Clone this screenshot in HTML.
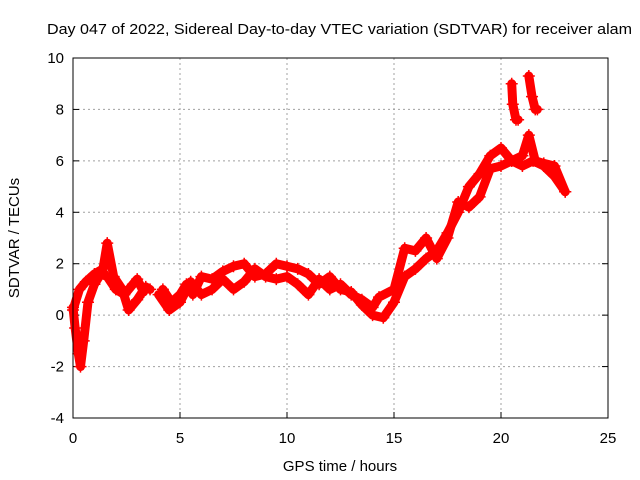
<!DOCTYPE html>
<html><head><meta charset="utf-8"><style>
body{margin:0;background:#fff;}
svg{display:block;font-family:"Liberation Sans",sans-serif;}
</style></head><body>
<svg id="chart" width="640" height="480" viewBox="0 0 640 480">
<text x="47" y="34" font-size="15" textLength="585" lengthAdjust="spacingAndGlyphs" fill="#000">Day 047 of 2022, Sidereal Day-to-day VTEC variation (SDTVAR) for receiver alam</text>
<text transform="translate(19,238) rotate(-90)" text-anchor="middle" font-size="15">SDTVAR / TECUs</text>
<text x="340" y="471" text-anchor="middle" font-size="15">GPS time / hours</text>
<g id="grid"></g><g id="data"></g>
<rect x="73" y="58" width="535" height="360" fill="none" stroke="#000" stroke-width="1"/>
</svg>
<script>
const xTicks=[0,5,10,15,20,25];
const yTicks=[-4,-2,0,2,4,6,8,10];
const trackA=[[0,0.3],[0.1,-0.5],[0.25,-1.5],[0.35,-2.0],[0.5,-1.0],[0.7,0.5],[1.0,1.2],[1.3,1.6],[1.6,1.5],[2.0,1.0],[2.4,0.8],[2.8,1.2],[3.0,1.4],[3.3,0.9]];
const trackB=[[0,0.2],[0.3,1.0],[0.6,1.3],[1.0,1.6],[1.4,1.8],[1.6,2.8],[1.9,1.5],[2.3,1.0],[2.6,0.2],[3.0,0.6],[3.4,1.1],[3.6,1.0]];
const trackC=[[4.2,1.0],[4.6,0.5],[5.0,0.8],[5.3,1.2],[5.6,0.8],[6.0,1.5],[6.5,1.4],[7.0,1.7],[7.5,1.9],[8.0,2.0],[8.5,1.5],[9.0,1.6],[9.5,2.0],[10,1.9],[10.5,1.8],[11,1.6],[11.5,1.2],[12,1.5],[12.5,1.0],[13,0.9],[13.5,0.4],[14,0.0],[14.5,-0.1],[15,0.5],[15.5,1.5],[16,1.8],[16.5,2.2],[17,2.5],[17.5,3.2],[18,4.0],[18.5,5.0],[19,5.5],[19.5,6.2],[20,6.5],[20.5,6.0],[21,5.8],[21.5,6.0],[22,5.8],[22.5,5.4],[23,4.8]];
const trackD=[[4.0,0.8],[4.5,0.2],[5.0,0.5],[5.5,1.3],[6.0,0.8],[6.5,1.0],[7.0,1.4],[7.5,1.0],[8.0,1.3],[8.5,1.8],[9,1.5],[9.5,1.4],[10,1.5],[10.5,1.2],[11,0.8],[11.5,1.4],[12,1.0],[12.5,1.2],[13,0.8],[13.5,0.6],[14,0.3],[14.3,0.7],[15,1.0],[15.5,2.6],[16,2.5],[16.5,3.0],[17,2.2],[17.5,3.0],[18,4.4],[18.5,4.2],[19,4.6],[19.5,5.7],[20,5.8],[20.5,6.0],[21,6.2],[21.3,7.0],[21.6,6.0],[22,5.9],[22.5,5.8],[23,4.8]];
const spike1=[[20.5,9.0],[20.55,8.2],[20.7,7.6],[20.8,7.6]];
const spike2=[[21.3,9.3],[21.45,8.5],[21.6,8.0],[21.7,8.0]];
const tracks=[trackA,trackB,trackC,trackD,spike1,spike2];
const NS="http://www.w3.org/2000/svg";
const L=73,R=608,T=58,B=418;
const sx=v=>L+(v-0)/(25-0)*(R-L);
const sy=v=>B-(v-(-4))/(10-(-4))*(B-T);
const grid=document.getElementById('grid'),data=document.getElementById('data');
function mk(tag,attrs,parent){const e=document.createElementNS(NS,tag);for(const k in attrs)e.setAttribute(k,attrs[k]);parent.appendChild(e);return e;}
xTicks.forEach(t=>{
 if(t>0&&t<25){const g=mk('line',{x1:sx(t),x2:sx(t),y1:T,y2:B,stroke:'#a0a0a0','stroke-dasharray':'2,3'},grid);
 
 }
 const tk=mk('line',{x1:sx(t),x2:sx(t),y1:B,y2:B-6,stroke:'#000'},grid);
 
 
 const tx=mk('text',{x:sx(t),y:B+25,'text-anchor':'middle','font-size':'15'},grid);tx.textContent=t;
 
 
});
yTicks.forEach(t=>{
 if(t>-4&&t<10){const g=mk('line',{x1:L,x2:R,y1:sy(t),y2:sy(t),stroke:'#a0a0a0','stroke-dasharray':'2,3'},grid);
 
 }
 const tk=mk('line',{x1:L,x2:L+6,y1:sy(t),y2:sy(t),stroke:'#000'},grid);
 
 
 const tk2=mk('line',{x1:R,x2:R-6,y1:sy(t),y2:sy(t),stroke:'#000'},grid);
 
 
 const tx=mk('text',{x:L-9,y:sy(t)+5,'text-anchor':'end','font-size':'15'},grid);tx.textContent=t;
 
 
});
tracks.forEach(tr=>{
 const pts=tr.map(p=>sx(p[0])+','+sy(p[1])).join(' ');
 const pl=mk('polyline',{points:pts,fill:'none',stroke:'#ff0000','stroke-width':'9','stroke-linejoin':'round','stroke-linecap':'round'},data);
 
 
 tr.forEach(p=>{
  const x=sx(p[0]),y=sy(p[1]);
  const m=mk('path',{d:`M${x-6},${y}H${x+6}M${x},${y-6}V${y+6}`,stroke:'#ff0000','stroke-width':'1.5'},data);
  
  
 });
});
</script>
</body></html>
